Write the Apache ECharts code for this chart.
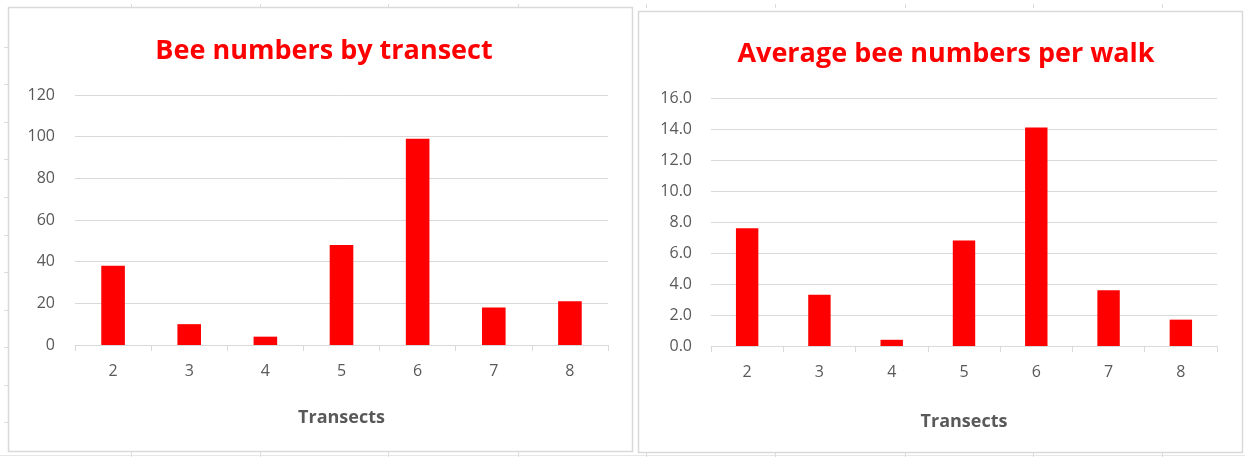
<!DOCTYPE html>
<html>
<head>
<meta charset="utf-8">
<script src="https://cdn.jsdelivr.net/npm/echarts@6/dist/echarts.min.js"></script>
<style>
  html, body { margin: 0; padding: 0; background: #fff; }
  #chart { width: 1245px; height: 457px; }
</style>
</head>
<body>
<div id="chart"></div>
<script>
// transects on the x axis
var transects = ["2", "3", "4", "5", "6", "7", "8"];
// total bees counted per transect
var beeTotals = [38, 10, 4, 48, 99, 18, 21];
// average bees per walk
var beeAverages = [7.6, 3.3, 0.4, 6.8, 14.1, 3.6, 1.7];

var chartDom = document.getElementById("chart");
var myChart = echarts.init(chartDom);

var grey = "#595959";
var lineGrey = "#d9d9d9";
var font = "'Open Sans', 'Liberation Sans', sans-serif";

// faint spreadsheet cell lines peeking out around the two charts
var sheetCols = [131, 260, 388, 518, 646, 775, 905, 1033, 1162];
var sheetRows = [47, 84, 122, 159, 197, 235, 272, 310, 347, 385, 422];

function xAxisFor(gridIndex, nameGap) {
  return {
    type: "category",
    gridIndex: gridIndex,
    data: transects,
    name: "Transects",
    nameLocation: "middle",
    nameGap: nameGap,
    nameTextStyle: { color: grey, fontSize: 18, fontWeight: "bold", fontFamily: font },
    axisLine: { lineStyle: { color: lineGrey } },
    axisTick: { show: true, interval: 0, length: 6, lineStyle: { color: lineGrey } },
    axisLabel: { color: grey, fontSize: 16, margin: 18, fontFamily: font },
  };
}

function yAxisFor(gridIndex, max, interval, digits, margin) {
  return {
    type: "value",
    gridIndex: gridIndex,
    min: 0,
    max: max,
    interval: interval,
    axisLine: { show: false },
    axisTick: { show: false },
    splitLine: { lineStyle: { color: lineGrey } },
    axisLabel: {
      color: grey,
      fontSize: 16,
      margin: margin,
      fontFamily: font,
      formatter: function (v) { return v.toFixed(digits); },
    },
  };
}

var graphics = [
  { type: "rect", shape: { x: 8.5, y: 7.5, width: 624, height: 444 }, style: { fill: "#fff", stroke: lineGrey, lineWidth: 1.5 }, z: -1 },
  { type: "rect", shape: { x: 638.5, y: 11.5, width: 604, height: 441 }, style: { fill: "#fff", stroke: lineGrey, lineWidth: 1.5 }, z: -1 },
  { type: "line", shape: { x1: 0, y1: 455.5, x2: 1245, y2: 455.5 }, style: { stroke: "#e6e6e6", lineWidth: 1 }, z: -2 },
];
sheetCols.forEach(function (x) {
  graphics.push({ type: "line", shape: { x1: x + 0.5, y1: 4, x2: x + 0.5, y2: 8 }, style: { stroke: "#dcdcdc", lineWidth: 1 }, z: -2 });
  graphics.push({ type: "line", shape: { x1: x + 0.5, y1: 452, x2: x + 0.5, y2: 457 }, style: { stroke: "#dcdcdc", lineWidth: 1 }, z: -2 });
});
sheetRows.forEach(function (y) {
  graphics.push({ type: "line", shape: { x1: 4, y1: y + 0.5, x2: 8, y2: y + 0.5 }, style: { stroke: "#dcdcdc", lineWidth: 1 }, z: -2 });
});

var option = {
  animation: false,
  backgroundColor: "#fff",
  title: [
    {
      text: "Bee numbers by transect",
      left: 319,
      top: 33,
      textAlign: "center",
      textStyle: { color: "#ff0000", fontSize: 27, fontWeight: "bold", fontFamily: font },
    },
    {
      text: "Average bee numbers per walk",
      left: 941,
      top: 36,
      textAlign: "center",
      textStyle: { color: "#ff0000", fontSize: 27, fontWeight: "bold", fontFamily: font },
    },
  ],
  graphic: graphics,
  grid: [
    { left: 75, right: 637, top: 95, bottom: 112 },
    { left: 711, right: 28, top: 98, bottom: 111 },
  ],
  xAxis: [xAxisFor(0, 64), xAxisFor(1, 67)],
  yAxis: [yAxisFor(0, 120, 20, 0, 20), yAxisFor(1, 16, 2, 1, 19)],
  series: [
    {
      type: "bar",
      xAxisIndex: 0,
      yAxisIndex: 0,
      barWidth: "31%",
      itemStyle: { color: "#ff0000" },
      data: beeTotals,
    },
    {
      type: "bar",
      xAxisIndex: 1,
      yAxisIndex: 1,
      barWidth: "31%",
      itemStyle: { color: "#ff0000" },
      data: beeAverages,
    },
  ],
};

option && myChart.setOption(option);
</script>
</body>
</html>
